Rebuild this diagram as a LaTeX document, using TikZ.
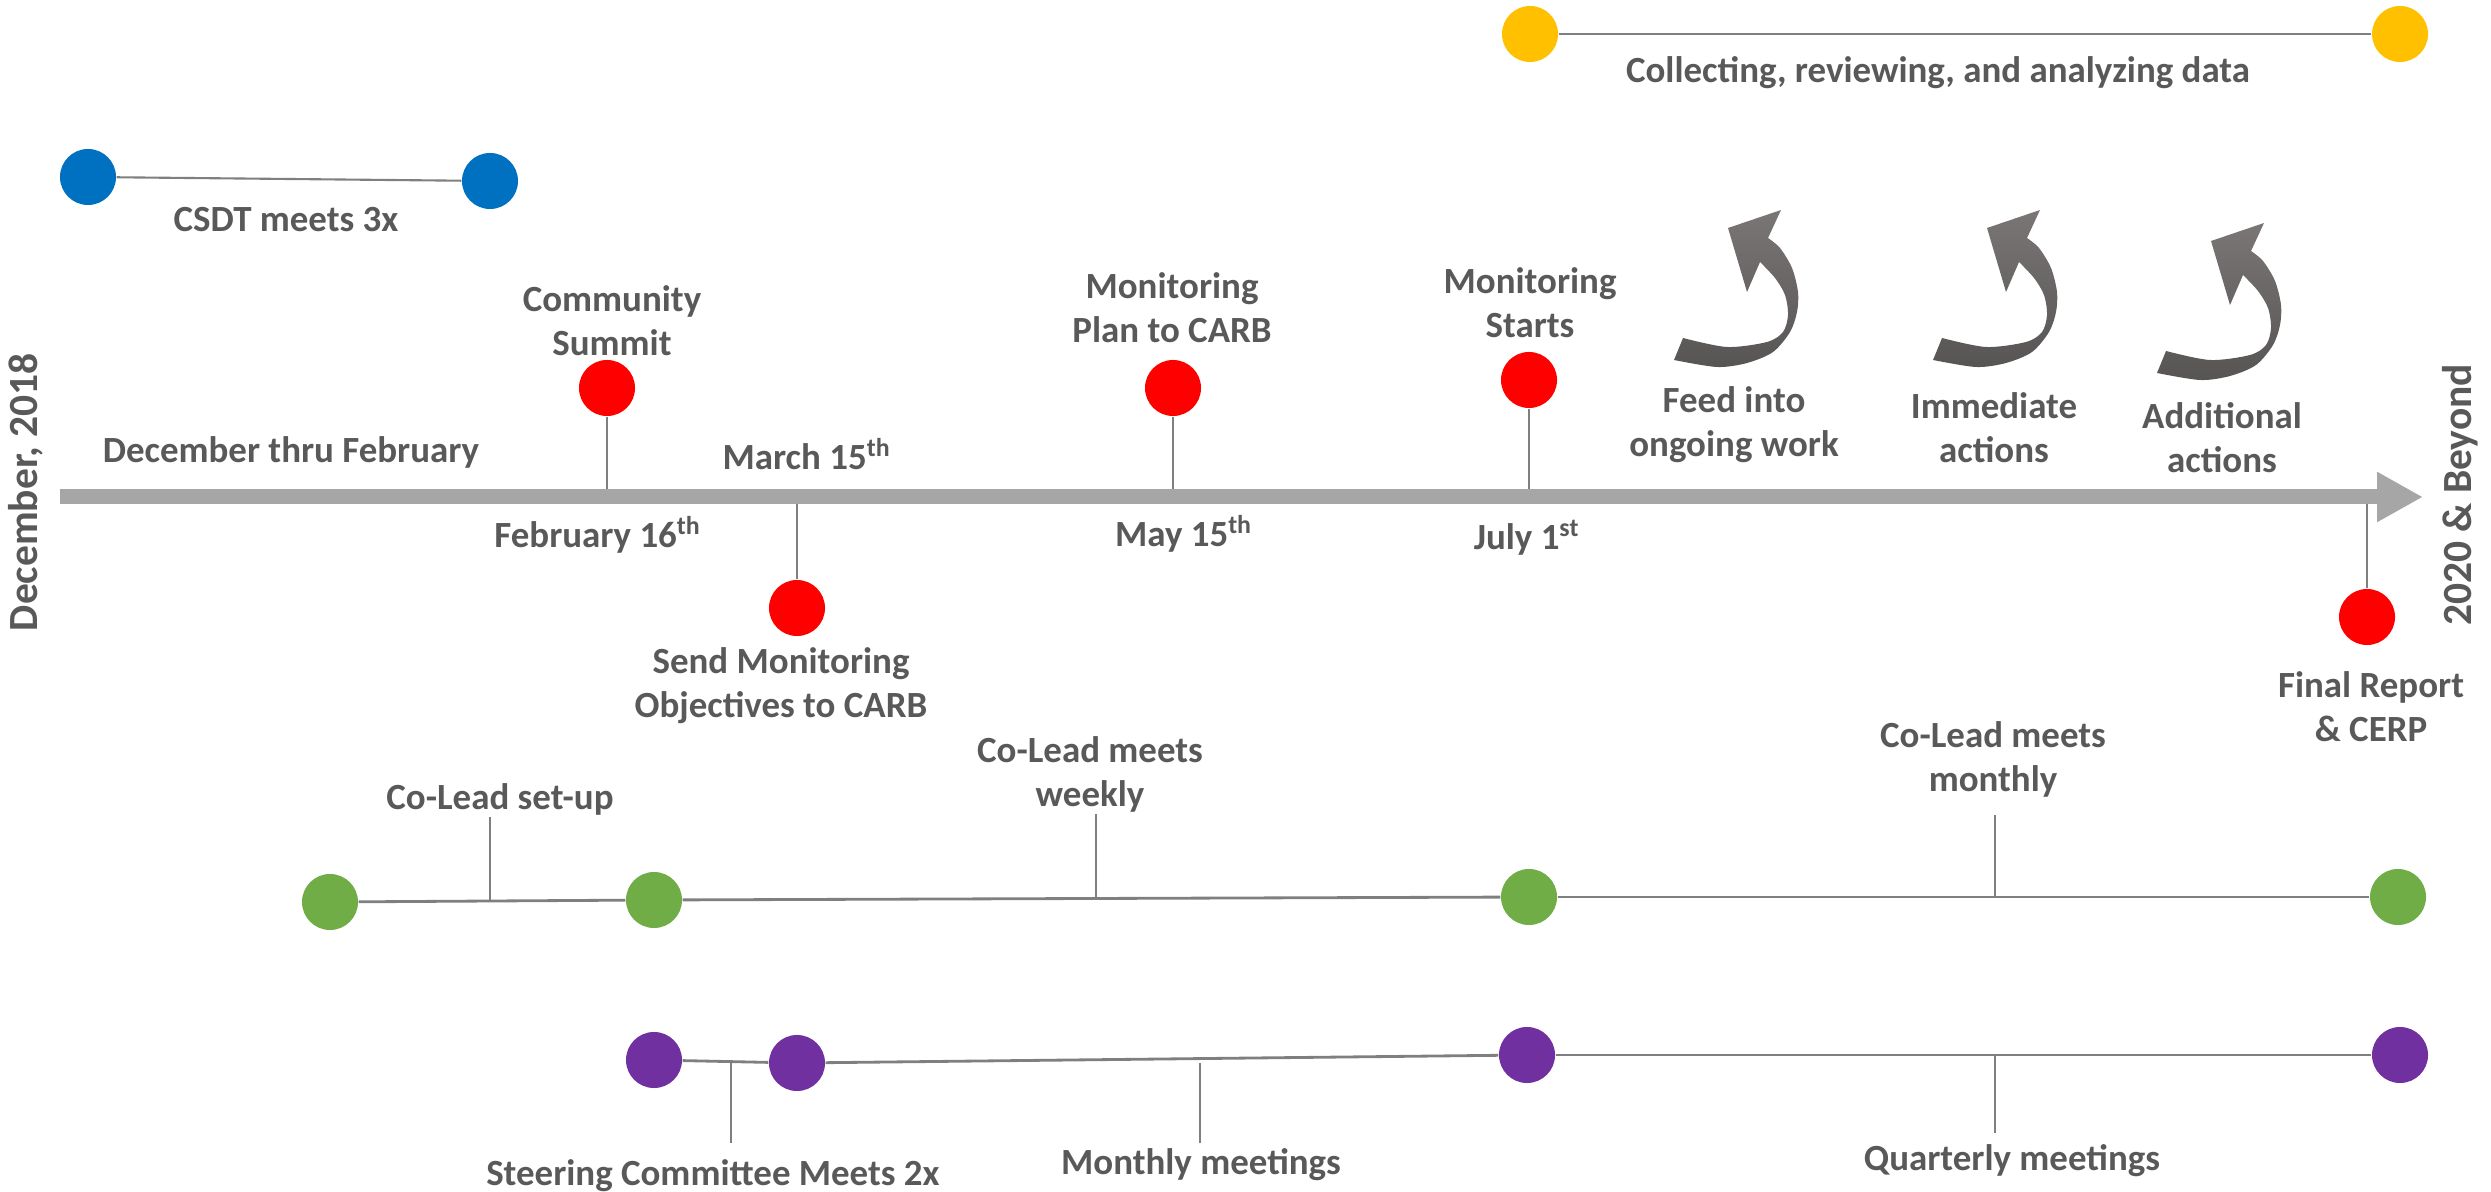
\documentclass[tikz,border=0pt]{standalone}
\usepackage{fontspec}
\setmainfont{Carlito}
\usetikzlibrary{arrows.meta}
\definecolor{txtgray}{HTML}{595959}
\definecolor{bargray}{HTML}{A6A6A6}
\definecolor{linegray}{HTML}{7F7F7F}
\definecolor{myred}{HTML}{FF0000}
\definecolor{myblue}{HTML}{0070C0}
\definecolor{myyellow}{HTML}{FFC000}
\definecolor{mygreen}{HTML}{70AD47}
\definecolor{mypurple}{HTML}{7030A0}
\definecolor{turnlight}{HTML}{7A7676}
\definecolor{turndark}{HTML}{575454}

\begin{document}
\begin{tikzpicture}[x=0.01cm,y=-0.01cm,
  dot/.style={circle,minimum size=0.56cm,inner sep=0pt},
  lbl/.style={text=txtgray,font=\fontsize{10.5}{12.6}\selectfont\bfseries,
    align=center,inner sep=0pt,anchor=base},
  side/.style={text=txtgray,font=\fontsize{11.8}{14}\selectfont\bfseries,
    inner sep=0pt,rotate=90},
  link/.style={linegray,line width=0.8pt},
  stem/.style={linegray,line width=0.6pt},
  bendarrow/.pic={
    \shade[top color=turnlight,bottom color=turndark]
      (0,0) -- (9,-22)
      -- plot[smooth] coordinates {(9,-22) (53,-13) (93,-18) (109,-28) (114,-45) (111,-65) (101,-82) (86,-98)}
      -- (73,-68) -- (54,-132) -- (107,-150) -- (94,-122)
      -- plot[smooth] coordinates {(94,-122) (106,-112) (118,-92) (124,-68) (123,-48) (116,-28) (99,-8) (73,3) (43,7) (0,0)}
      -- cycle;
  }
]
\useasboundingbox (0,0) rectangle (2491,1192);

% main time line
\coordinate (tl0) at (60,497);
\coordinate (tl1) at (2423,497);
\node[side] (start) at (26,492) {December, 2018};
\node[side] (beyond) at (2460,495) {2020 \& Beyond};

% milestones on the time line
\node[dot,fill=myred] (r1) at (607,388) {};
\node[dot,fill=myred] (r2) at (797,608) {};
\node[dot,fill=myred] (r3) at (1173,388) {};
\node[dot,fill=myred] (r4) at (1529,380) {};
\node[dot,fill=myred] (r5) at (2367,617) {};
\foreach \r in {r1,r2,r3,r4,r5}
  \draw[stem] (\r) -- (\r |- tl0);
\draw[bargray,line width=0.15cm,-{Triangle[length=0.46cm,width=0.47cm]}] (tl0) -- (tl1);

% (two-line labels sit on the baseline of their last line)
\node[lbl] (decfeb) at (291,463) {December thru February};
\node[lbl] (summit) at (612,356) {Community\\Summit};
\node[lbl] (feb) at (598,548) {February 16\textsuperscript{th}};
\node[lbl] (mar) at (807,470) {March 15\textsuperscript{th}};
\node[lbl] (objs) at (781,718) {Send Monitoring\\Objectives to CARB};
\node[lbl] (plan) at (1172,343) {Monitoring\\Plan to CARB};
\node[lbl] (may) at (1184,547) {May 15\textsuperscript{th}};
\node[lbl] (starts) at (1530,338) {Monitoring\\Starts};
\node[lbl] (jul) at (1527,550) {July 1\textsuperscript{st}};
\node[lbl] (final) at (2371,742) {Final Report\\\& CERP};

% what follows the data
\pic at (1674,360) {bendarrow};
\pic at (1933,360) {bendarrow};
\pic at (2157,373) {bendarrow};
\node[lbl] (feed) at (1734,457) {Feed into\\ongoing work};
\node[lbl] (immed) at (1994,463) {Immediate\\actions};
\node[lbl] (addl) at (2222,473) {Additional\\actions};

% CSDT
\node[dot,fill=myblue] (b1) at (88,177) {};
\node[dot,fill=myblue] (b2) at (490,181) {};
\draw[link,line width=0.6pt] (b1) -- (b2);
\node[lbl] (csdt) at (286,232) {CSDT meets 3x};

% data
\node[dot,fill=myyellow] (y1) at (1530,34) {};
\node[dot,fill=myyellow] (y2) at (2400,34) {};
\draw[link] (y1) -- (y2);
\node[lbl] (coll) at (1938,83) {Collecting, reviewing, and analyzing data};

% co-lead
\node[dot,fill=mygreen] (g1) at (330,902) {};
\node[dot,fill=mygreen] (g2) at (654,900) {};
\node[dot,fill=mygreen] (g3) at (1529,897) {};
\node[dot,fill=mygreen] (g4) at (2398,897) {};
\draw[link] (g1) -- (g2);
\draw[link] (g2) -- (g3);
\draw[link] (g3) -- (g4);
\coordinate (k1) at (490,817);
\coordinate (k2) at (1096,814);
\coordinate (k3) at (1995,815);
\draw[stem] (k1) -- (k1 |- g1);
\draw[stem] (k2) -- (k2 |- g2);
\draw[stem] (k3) -- (k3 |- g3);
\node[lbl] (setup) at (500,810) {Co-Lead set-up};
\node[lbl] (weekly) at (1090,807) {Co-Lead meets\\weekly};
\node[lbl] (monthly) at (1993,792) {Co-Lead meets\\monthly};

% steering committee
\node[dot,fill=mypurple] (p1) at (654,1060) {};
\node[dot,fill=mypurple] (p2) at (797,1063) {};
\node[dot,fill=mypurple] (p3) at (1527,1055) {};
\node[dot,fill=mypurple] (p4) at (2400,1055) {};
\draw[link] (p1) -- (p2);
\draw[link] (p2) -- (p3);
\draw[link] (p3) -- (p4);
\coordinate (q1) at (731,1143);
\coordinate (q2) at (1200,1143);
\coordinate (q3) at (1995,1133);
\draw[stem] (q1) -- (q1 |- p1);
\draw[stem] (q2) -- (q2 |- p2);
\draw[stem] (q3) -- (q3 |- p3);
\node[lbl] (steer) at (713,1185) {Steering Committee Meets 2x};
\node[lbl] (mmeet) at (1201,1174) {Monthly meetings};
\node[lbl] (qmeet) at (2012,1170) {Quarterly meetings};
\end{tikzpicture}
\end{document}
